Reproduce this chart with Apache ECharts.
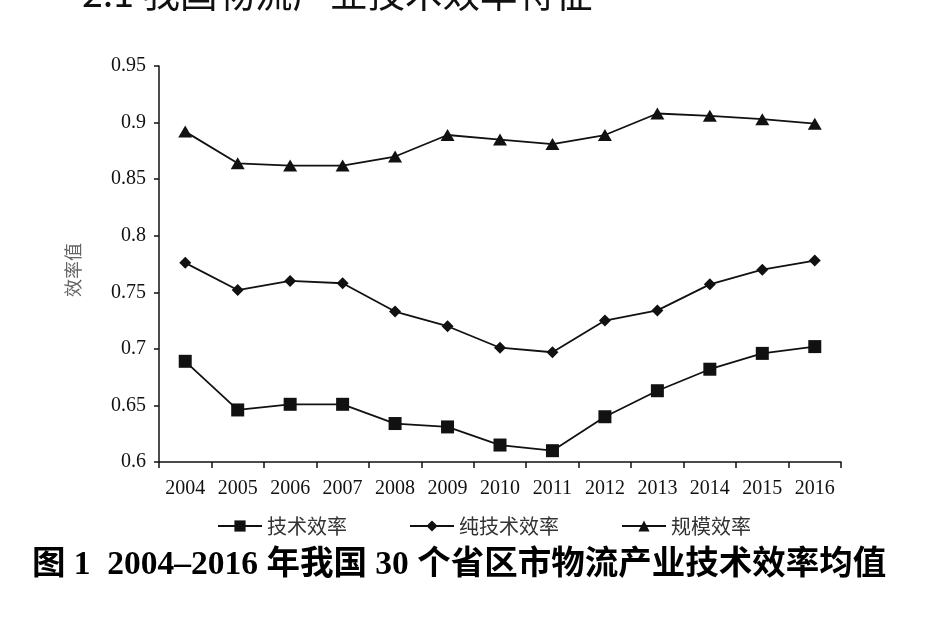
<!DOCTYPE html>
<html>
<head>
<meta charset="utf-8">
<script src="https://cdn.jsdelivr.net/npm/echarts@6/dist/echarts.min.js"></script>
<style>html,body{margin:0;padding:0;background:#fff;}#c{width:946px;height:631px;}</style>
</head>
<body>
<div id="c"></div>
<script>
var years = ['2004','2005','2006','2007','2008','2009','2010','2011','2012','2013','2014','2015','2016'];
var techEff = [0.689,0.646,0.651,0.651,0.634,0.631,0.615,0.610,0.640,0.663,0.682,0.696,0.702];
var pureTechEff = [0.776,0.752,0.760,0.758,0.733,0.720,0.701,0.697,0.725,0.734,0.757,0.770,0.778];
var scaleEff = [0.892,0.864,0.862,0.862,0.870,0.889,0.885,0.881,0.889,0.908,0.906,0.903,0.899];
var seriesNames = ['技术效率','纯技术效率','规模效率'];
var yMin = 0.6, yMax = 0.95, yStep = 0.05;
var yName = '效率值';
var sectionTitle = '2.1 我国物流产业技术效率特征';
var figTitle = '图 1  2004–2016 年我国 30 个省区市物流产业技术效率均值';

var chart = echarts.init(document.getElementById('c'));
var serif = "'Liberation Serif','Noto Sans CJK SC'";
var triPath = 'path://M0,10 L6,0 L12,10 Z';
function mk(name, data, symbol, size) {
  return {
    name: name, type: 'line', data: data,
    symbol: symbol, symbolSize: size, showSymbol: true,
    lineStyle: {color: '#111', width: 1.8},
    itemStyle: {color: '#111'},
    emphasis: {disabled: true},
    animation: false
  };
}
chart.setOption({
  animation: false,
  backgroundColor: '#fff',
  grid: {left: 159, right: 105, top: 66, bottom: 169, containLabel: false},
  legend: {
    data: seriesNames,
    left: 212, top: 511,
    itemWidth: 44, itemHeight: 14, itemGap: 62,
    textStyle: {fontFamily: "'Noto Sans CJK SC'", fontSize: 20, color: '#333'}
  },
  xAxis: {
    type: 'category', data: years, boundaryGap: true,
    axisLine: {lineStyle: {color: '#111', width: 1.5}},
    axisTick: {show: true, length: 6, inside: false, lineStyle: {color: '#111', width: 1.5}},
    axisLabel: {fontFamily: serif, fontSize: 20, color: '#111', margin: 17, interval: 0},
    splitLine: {show: false}
  },
  yAxis: {
    type: 'value', min: yMin, max: yMax, interval: yStep,
    axisLine: {show: true, lineStyle: {color: '#111', width: 1.5}},
    axisTick: {show: true, length: 5, lineStyle: {color: '#111', width: 1.5}},
    axisLabel: {fontFamily: serif, fontSize: 20, color: '#111', margin: 13},
    splitLine: {show: false}
  },
  graphic: [
    {type: 'text', left: 82, top: -26, style: {text: sectionTitle, fontFamily: "'Noto Sans CJK SC'", fontSize: 37.5, fill: '#111'}},
    {type: 'text', x: 73, y: 270, rotation: Math.PI / 2, style: {text: yName, fontFamily: "'Noto Sans CJK SC'", fontSize: 18, fill: '#666', align: 'center', verticalAlign: 'middle'}},
    {type: 'text', left: 32, top: 549, style: {text: figTitle, fontFamily: serif, fontWeight: 'bold', fontSize: 33.5, fill: '#000'}}
  ],
  series: [
    mk(seriesNames[0], techEff, 'rect', 13),
    mk(seriesNames[1], pureTechEff, 'diamond', 12),
    mk(seriesNames[2], scaleEff, triPath, [14, 12])
  ]
});
</script>
</body>
</html>
